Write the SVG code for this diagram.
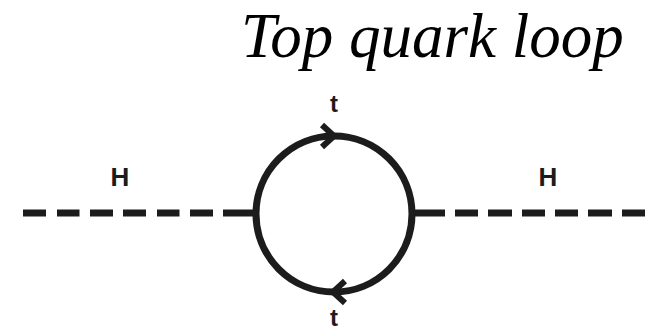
<svg xmlns="http://www.w3.org/2000/svg" width="651" height="330" viewBox="0 0 651 330">
<style>
.ln{fill:none;stroke:#1c1c1c;stroke-width:7;stroke-linecap:butt}
.arr{fill:none;stroke:#1c1c1c;stroke-width:6;stroke-linecap:butt;stroke-linejoin:miter}
.lbl{font-family:"Liberation Sans",Arial,sans-serif;font-weight:bold;fill:#1c1c1c;text-anchor:middle}
.title{font-family:"Liberation Serif","Times New Roman",serif;font-style:italic;font-size:63px;fill:#000}
</style>
<rect width="651" height="330" fill="#fff"/>
<text class="title" x="241" y="57">Top quark loop</text>
<g id="connectors">
<path class="ln" d="M23,213 H46 M57,213 H79.5 M90,213 H113 M123,213 H146 M157,213 H179.5 M190,213 H213 M223,213 H256"/>
<path class="ln" d="M412,213 H445 M455,213 H478 M488,213 H512 M522,213 H545 M555,213 H578 M588,213 H612 M622,213 H645"/>
</g>
<g id="loop">
<circle class="ln" cx="334" cy="214" r="78"/>
<path class="arr" d="M322,125 L334,136 L322,147"/>
<path class="arr" d="M345,281 L333,292 L345,303"/>
</g>
<g id="H-left"><text class="lbl" x="120" y="186" font-size="26">H</text></g>
<g id="H-right"><text class="lbl" x="548" y="186" font-size="26">H</text></g>
<g id="t-top"><text class="lbl" x="334" y="112" font-size="24">t</text></g>
<g id="t-bottom"><text class="lbl" x="334" y="326" font-size="24">t</text></g>
</svg>
